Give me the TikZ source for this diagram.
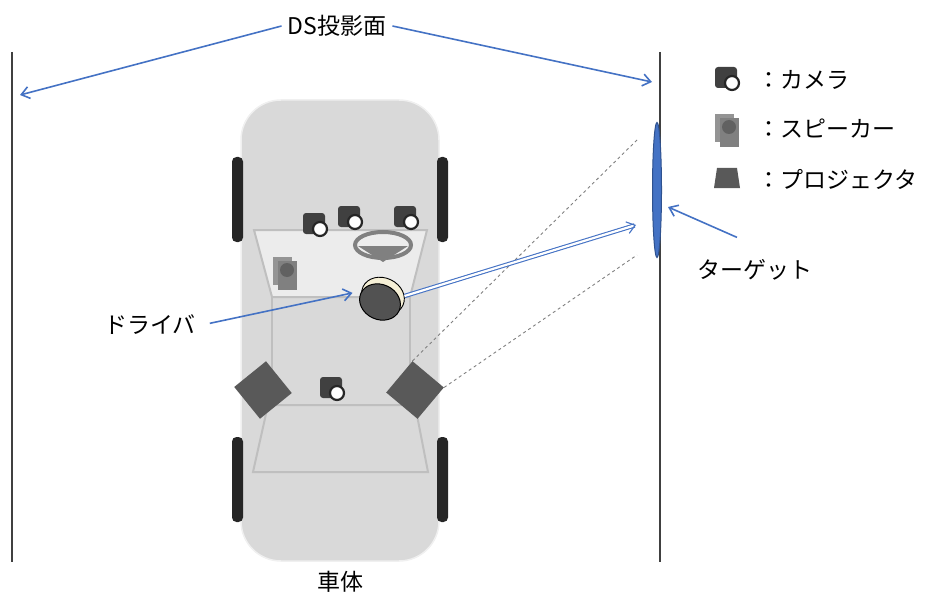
\documentclass[tikz,border=0pt]{standalone}
\usepackage{fontspec}
\setmainfont{Noto Sans CJK JP}
\usetikzlibrary{arrows.meta, positioning, shapes.geometric}
\definecolor{linkblue}{RGB}{68, 114, 196}
\definecolor{linkdark}{RGB}{47, 82, 143}
\definecolor{bodygray}{RGB}{217, 217, 217}
\definecolor{cabingray}{RGB}{236, 236, 236}
\definecolor{tyredark}{RGB}{38, 38, 38}
\definecolor{devgray}{RGB}{89, 89, 89}
\definecolor{haircream}{RGB}{246, 240, 214}

\begin{document}
\begin{tikzpicture}[
    x=1pt, y=-1pt,
    txt/.style={font=\fontsize{23}{26}\selectfont, inner sep=6pt},
    pointer/.style={-{Straight Barb[length=8pt, width=12pt]}, linkblue, line width=1.6pt},
    beam/.style={-{Straight Barb[length=8pt, width=12pt]}, draw=linkblue, double=white, double distance=2.2pt, line width=1.1pt},
    sight/.style={draw=black!50, dashed, line width=0.9pt},
    plane/.style={draw=black!75, line width=1.3pt},
    tyre/.style={fill=tyredark, rounded corners=4.5pt},
    trim/.style={draw=black!25, line width=2pt},
    projector/.style={diamond, fill=devgray, minimum size=58pt, inner sep=0pt},
    camera/.pic={
        \fill[black!75, rounded corners=3pt] (-11,-10) rectangle (11,11);
        \draw[black!85, fill=white, line width=2.2pt] (6,6) circle (7);
    },
    speaker/.pic={
        \fill[black!42] (-12,-16) rectangle (7,12);
        \fill[black!50] (-7,-12) rectangle (12,17);
        \fill[black!62] (2,-3) circle (7);
    },
    lamp/.pic={
        \fill[devgray] (-10,-10) -- (10,-10) -- (13,10) -- (-13,10) -- cycle;
    }
]
    \useasboundingbox (0,0) rectangle (936,596);

    % DS projection planes
    \draw[plane] (12,52) -- (12,562);
    \draw[plane] (660,52) -- (660,562);
    \coordinate (leftmark) at (20,95);
    \coordinate (rightmark) at (652,82);

    % Car body and tyres
    \fill[bodygray, draw=black!6, line width=1.5pt, rounded corners=40pt] (241,100) rectangle (439,561);
    \fill[tyre] (232,157) rectangle (243,242);
    \fill[tyre] (437,157) rectangle (448,242);
    \fill[tyre] (232,437) rectangle (243,522);
    \fill[tyre] (437,437) rectangle (448,522);

    % Cabin outline
    \filldraw[trim, fill=cabingray] (254,230) -- (427,230) -- (410,297) -- (272,297) -- cycle;
    \draw[trim] (272,297) rectangle (410,405);
    \draw[trim] (268,405) -- (415,405) -- (428,472) -- (253,472) -- cycle;

    % Steering wheel
    \fill[black!50] (358,246) -- (408,246) -- (383,262) -- cycle;
    \draw[black!50, line width=4pt] (383,245) ellipse (28 and 13);

    % Driver (hair behind the head)
    \node[ellipse, fill=haircream, draw=black, line width=0.9pt, minimum width=44pt, minimum height=36pt, inner sep=0pt, rotate=-25] (hair) at (383,296) {};
    \node[ellipse, fill=black!68, draw=black, line width=1pt, minimum width=42pt, minimum height=35pt, inner sep=0pt, rotate=-25] (driver) at (380,302) {};

    % Cameras and speaker
    \pic at (314,223) {camera};
    \pic at (349,216) {camera};
    \pic at (405,216) {camera};
    \pic at (331,387) {camera};
    \pic at (285,273) {speaker};

    % Projectors
    \node[projector, rotate=-6] (projL) at (263,390) {};
    \node[projector, rotate=5] (projR) at (415,390) {};

    % Target
    \node[ellipse, fill=linkblue, draw=linkdark, line width=1pt, minimum width=9pt, minimum height=135pt, inner sep=0pt] (target) at (657,190) {};
    \coordinate (beamend) at (636,225);
    \coordinate (sighttop) at (637,140);
    \coordinate (sightlow) at (637,255);

    % Sight lines and beam
    \draw[sight] (projR.north) -- (sighttop);
    \draw[sight] (projR.east) -- (sightlow);
    \draw[beam] (hair.25) -- (beamend);

    % Labels
    \node[txt] (dslabel) at (337,26) {DS投影面};
    \node[txt] (driverlabel) at (150,325) {ドライバ};
    \node[txt] (targetlabel) at (755,270) {ターゲット};
    \node[txt] (bodylabel) at (340,582) {車体};

    \draw[pointer] (dslabel.west) -- (leftmark);
    \draw[pointer] (dslabel.east) -- (rightmark);
    \draw[pointer, shorten <=8pt] (driverlabel.east) -- ([xshift=-8pt]driver.west);
    \draw[pointer] ([shift={(-18,-16)}]targetlabel.north) -- ([shift={(6,17)}]target.east);

    % Legend
    \pic at (726,77) {camera};
    \pic at (727,130) {speaker};
    \pic at (727,178) {lamp};
    \node[txt, anchor=west, inner sep=0pt] (camkey) at (757,80) {：カメラ};
    \node[txt, anchor=west, inner sep=0pt] (spkkey) at (757,128) {：スピーカー};
    \node[txt, anchor=west, inner sep=0pt] (prjkey) at (757,179) {：プロジェクタ};
\end{tikzpicture}
\end{document}
